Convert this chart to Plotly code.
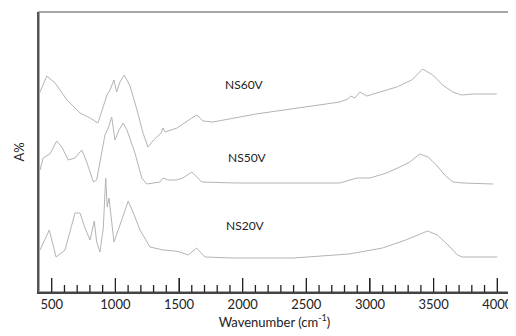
import plotly.graph_objects as go

# NS60V spectrum (wavenumber, absorbance offset units)
ns60_wn = [408, 461, 526, 620, 722, 801, 863, 934, 958, 989, 1010, 1036, 1070, 1115, 1170, 1217, 1256,
           1300, 1360, 1374, 1390, 1484, 1601, 1641, 1688, 1766, 2104, 2763, 2826, 2849, 2881, 2920,
           2975, 3077, 3210, 3328, 3414, 3493, 3571, 3650, 3720, 3807, 3996]
ns60_a = [200, 216, 209, 192, 179, 174, 169, 197, 202, 212, 200, 210, 217, 206, 182, 159, 145,
          152, 159, 164, 160, 164, 174, 177, 171, 170, 178, 190, 193, 196, 194, 200,
          196, 200, 205, 212, 223, 217, 207, 200, 197, 198, 198]

# NS50V spectrum
ns50_wn = [408, 432, 487, 539, 579, 630, 683, 736, 775, 827, 853, 918, 944, 971, 997, 1028, 1062, 1091,
           1154, 1207, 1246, 1311, 1350, 1376, 1413, 1481, 1531, 1601, 1678, 1952, 2763, 2842, 2899,
           2999, 3130, 3234, 3313, 3391, 3456, 3522, 3587, 3652, 3731, 3967]
ns50_a = [122, 134, 138, 151, 145, 132, 134, 142, 130, 110, 112, 157, 164, 175, 152, 162, 169, 162,
          139, 114, 108, 109, 110, 114, 112, 112, 114, 120, 110, 109, 109, 112, 114,
          114, 119, 125, 130, 138, 135, 127, 117, 110, 109, 108]

# NS20V spectrum
ns20_wn = [408, 481, 534, 604, 683, 722, 761, 801, 834, 853, 879, 905, 924, 936, 950, 971, 989, 1036,
           1101, 1154, 1193, 1272, 1376, 1468, 1507, 1572, 1638, 1703, 1926, 2397, 2685, 2836, 3098,
           3281, 3452, 3530, 3621, 3687, 3726, 4001]
ns20_a = [42, 62, 35, 42, 79, 79, 64, 52, 71, 50, 40, 64, 114, 85, 94, 72, 50, 67,
          91, 75, 62, 45, 42, 41, 40, 37, 44, 35, 34, 34, 37, 38, 44,
          52, 61, 57, 46, 37, 35, 35]

labels = ["NS60V", "NS50V", "NS20V"]
label_x = [2017, 2041, 2025]
label_y = [208, 135, 67]

tick_vals = [500, 1000, 1500, 2000, 2500, 3000, 3500, 4000]
minor_vals = [v for v in range(600, 4000, 100) if v not in tick_vals]

x_range = [400, 4100]
y_range = [0, 280]
line_col = "#b4b4b4"
fig = go.Figure()
for wn, a in [(ns60_wn, ns60_a), (ns50_wn, ns50_a), (ns20_wn, ns20_a)]:
    fig.add_trace(go.Scatter(x=wn, y=a, mode="lines",
                             line=dict(color=line_col, width=1), showlegend=False))

# inward tick marks along the wavenumber axis, built from the tick value lists
tx, ty = [], []
for v in tick_vals:
    tx += [v, v, None]
    ty += [y_range[0], y_range[0] + 14, None]
for v in minor_vals:
    tx += [v, v, None]
    ty += [y_range[0], y_range[0] + 7, None]
fig.add_trace(go.Scatter(x=tx, y=ty, mode="lines", line=dict(color="#222", width=1.3),
                         showlegend=False, hoverinfo="skip", cliponaxis=False))

for t, lx, ly in zip(labels, label_x, label_y):
    fig.add_annotation(x=lx, y=ly, text=t, showarrow=False,
                       font=dict(family="Lato", size=12, color="#222"))

# gray frame (top/right)
fig.add_shape(type="rect", xref="paper", yref="paper", x0=0, y0=0, x1=1, y1=1,
              line=dict(color="#8a8a8a", width=1.5), layer="below")

fig.update_layout(
    width=508, height=328,
    margin=dict(l=31, r=6, t=4, b=44),
    paper_bgcolor="white", plot_bgcolor="white",
    font=dict(family="Lato", size=13, color="#222"),
    xaxis=dict(range=x_range, tickvals=tick_vals, ticks="inside", ticklen=14,
               tickcolor="#222", tickwidth=1,
               showgrid=False, zeroline=False,
               showline=True, linecolor="#444", linewidth=1.5,
               automargin=False,
               title=dict(text="Wavenumber (cm<sup>-1</sup>)", font=dict(size=13), standoff=4)),
    yaxis=dict(range=y_range, showticklabels=False, ticks="", showgrid=False, zeroline=False,
               showline=True, linecolor="#555", linewidth=1.5, automargin=False,
               title=dict(text="A%", font=dict(size=13), standoff=10)),
)

fig.write_html("out.html")
